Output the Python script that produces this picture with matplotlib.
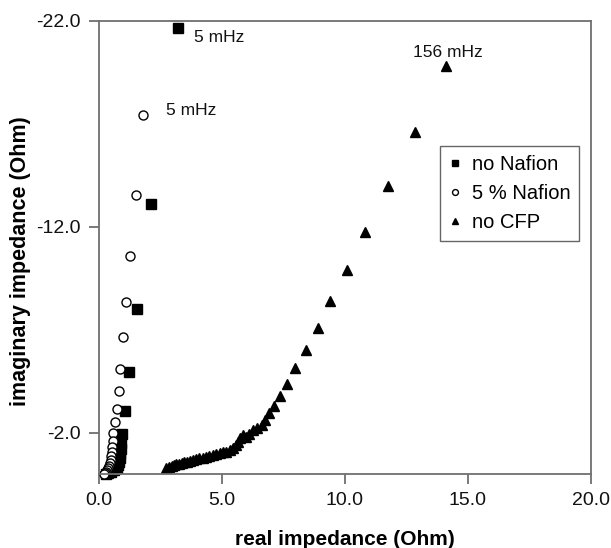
import matplotlib
matplotlib.use("Agg")
import matplotlib.pyplot as plt

plt.rcParams['font.family'] = ['Liberation Sans', 'DejaVu Sans']

# no Nafion (filled squares)
nn_x = [3.21, 2.13, 1.55, 1.21, 1.04, 0.94, 0.90, 0.88, 0.86, 0.84, 0.82, 0.78, 0.72, 0.62, 0.50, 0.38, 0.30]
nn_y = [-21.66, -13.09, -8.03, -4.94, -3.07, -1.94, -1.50, -1.22, -0.98, -0.76, -0.58, -0.42, -0.29, -0.18, -0.10, -0.05, -0.02]

# 5 % Nafion (open circles)
n5_x = [1.78, 1.49, 1.27, 1.08, 0.97, 0.86, 0.81, 0.73, 0.65, 0.59, 0.56, 0.54, 0.52, 0.50, 0.48, 0.45, 0.42, 0.38, 0.33, 0.28, 0.24, 0.21]
n5_y = [-17.41, -13.53, -10.60, -8.33, -6.63, -5.12, -4.02, -3.16, -2.52, -1.98, -1.58, -1.30, -1.07, -0.88, -0.70, -0.54, -0.40, -0.28, -0.18, -0.10, -0.05, -0.02]

# no CFP (filled triangles)
nc_x = [2.74, 2.85, 2.95, 3.05, 3.15, 3.25, 3.36, 3.47, 3.58, 3.70, 3.82, 3.95, 4.08, 4.21, 4.35,
        4.49, 4.63, 4.77, 4.91, 5.05, 5.18, 5.32, 5.45, 5.56, 5.65, 5.72, 5.86, 5.98, 6.12, 6.27,
        6.43, 6.61, 6.74, 6.92, 7.11, 7.35, 7.66, 7.99, 8.40, 8.89, 9.40, 10.07, 10.81, 11.75, 12.85, 14.11]
nc_y = [-0.28, -0.34, -0.39, -0.43, -0.47, -0.51, -0.54, -0.57, -0.60, -0.64, -0.68, -0.72, -0.76, -0.80, -0.84,
        -0.88, -0.92, -0.96, -1.00, -1.05, -1.09, -1.16, -1.25, -1.40, -1.55, -1.75, -1.90, -1.80, -1.95, -2.12,
        -2.25, -2.40, -2.60, -2.96, -3.32, -3.80, -4.39, -5.16, -6.00, -7.07, -8.38, -9.92, -11.76, -14.00, -16.62, -19.79]

series_labels = ["no Nafion", "5 % Nafion", "no CFP"]
x_ticks = [0.0, 5.0, 10.0, 15.0, 20.0]
y_ticks = [-22.0, -12.0, -2.0]

annotations = [("5 mHz", 3.85, -21.2), ("5 mHz", 2.71, -17.67), ("156 mHz", 12.78, -20.47)]

fig = plt.figure(figsize=(6.11, 5.48), dpi=100)
ax = fig.add_axes([0.162, 0.135, 0.805, 0.827])

ax.plot(nn_x, nn_y, linestyle='none', marker='s', markersize=6.5, color='black', label=series_labels[0], clip_on=False)
ax.plot(n5_x, n5_y, linestyle='none', marker='o', markersize=6.5, markerfacecolor='white',
        markeredgecolor='black', markeredgewidth=1.0, label=series_labels[1], clip_on=False)
ax.plot(nc_x, nc_y, linestyle='none', marker='^', markersize=7.5, color='black', label=series_labels[2], clip_on=False)

for txt, tx, ty in annotations:
    ax.text(tx, ty, txt, fontsize=12.5, ha='left', va='center', color='#111111')

ax.set_xlim(0, 20)
ax.set_ylim(0, -22)
ax.set_xticks(x_ticks)
ax.set_xticklabels([f"{v:.1f}" for v in x_ticks])
ax.set_yticks(y_ticks)
ax.set_yticklabels([f"{v:.1f}" for v in y_ticks])

spine_color = '#707070'
for s in ax.spines.values():
    s.set_color(spine_color)
    s.set_linewidth(1.3)
ax.tick_params(direction='out', length=7, width=1.3, color=spine_color, labelsize=14, labelcolor='#111111', pad=6)

ax.set_xlabel("real impedance (Ohm)", fontsize=15, fontweight='bold')
ax.set_ylabel("imaginary impedance (Ohm)", fontsize=15.5, fontweight='bold')
ax.xaxis.set_label_coords(0.5, -0.124)
ax.yaxis.set_label_coords(-0.138, 0.47)

leg = ax.legend(loc='upper left', bbox_to_anchor=(0.694, 0.724), fontsize=14.5, frameon=True, fancybox=False,
                markerscale=0.65, handlelength=0.6, handletextpad=0.5, borderpad=0.45, labelspacing=0.5,
                borderaxespad=0)
leg.get_frame().set_edgecolor('#404040')
leg.get_frame().set_linewidth(1.0)

fig.savefig("out.png", dpi=100)
